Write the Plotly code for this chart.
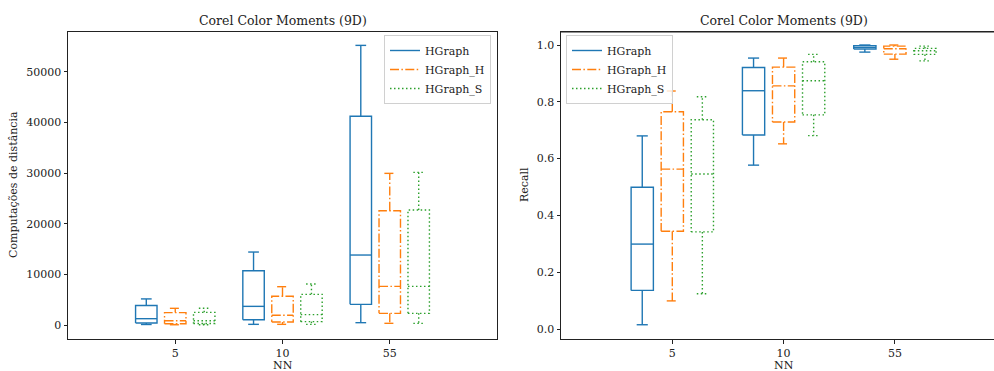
import plotly.graph_objects as go

# ---------------- data ----------------
nn_labels = ["5", "10", "55"]
series_names = ["HGraph", "HGraph_H", "HGraph_S"]

# distance computations: [lower whisker, q1, median, q3, upper whisker] per NN
dist_hgraph = [[100, 400, 1250, 3850, 5150],
               [130, 1050, 3680, 10720, 14400],
               [460, 4080, 13810, 41190, 55190]]
dist_hgraph_h = [[50, 260, 850, 2450, 3290],
                 [130, 590, 1910, 5660, 7560],
                 [330, 2300, 7630, 22560, 29930]]
dist_hgraph_s = [[50, 300, 850, 2500, 3300],
                 [130, 660, 2040, 6050, 8090],
                 [330, 2300, 7630, 22690, 30130]]
dist_ticks = [0, 10000, 20000, 30000, 40000, 50000]

# recall
rec_hgraph = [[0.015, 0.136, 0.299, 0.499, 0.680],
              [0.577, 0.683, 0.839, 0.921, 0.954],
              [0.975, 0.986, 0.992, 0.998, 1.000]]
rec_hgraph_h = [[0.099, 0.344, 0.563, 0.765, 0.838],
                [0.652, 0.729, 0.856, 0.922, 0.954],
                [0.950, 0.968, 0.987, 0.996, 1.000]]
rec_hgraph_s = [[0.124, 0.342, 0.546, 0.737, 0.818],
                [0.681, 0.754, 0.874, 0.941, 0.967],
                [0.944, 0.967, 0.980, 0.988, 0.996]]
rec_ticks = [0.0, 0.2, 0.4, 0.6, 0.8, 1.0]

colors = ["#1f77b4", "#ff7f0e", "#2ca02c"]
dashes = ["solid", "9px,2.4px,1.5px,2.4px", "1.5px,2.5px"]
offsets = [-0.27, 0.0, 0.27]
box_w = 0.2

FONT = "DejaVu Serif"
W, H = 994, 371


def box_path(center, stats):
    lo, q1, med, q3, hi = stats
    l, r = center - box_w / 2, center + box_w / 2
    cl, cr = center - box_w / 4, center + box_w / 4
    xs = [l, r, r, l, l, None,
          l, r, None,
          center, center, None,
          center, center, None,
          cl, cr, None,
          cl, cr, None]
    ys = [q1, q1, q3, q3, q1, None,
          med, med, None,
          q1, lo, None,
          q3, hi, None,
          lo, lo, None,
          hi, hi, None]
    return xs, ys


fig = go.Figure()

panels = [
    ([dist_hgraph, dist_hgraph_h, dist_hgraph_s], "x", "y", "legend"),
    ([rec_hgraph, rec_hgraph_h, rec_hgraph_s], "x2", "y2", "legend2"),
]

for data, xa, ya, leg in panels:
    for s, (name, ser) in enumerate(zip(series_names, data)):
        xs_all, ys_all = [], []
        for i, stats in enumerate(ser):
            xs, ys = box_path(i + 1 + offsets[s], stats)
            xs_all += xs
            ys_all += ys
        fig.add_trace(go.Scatter(
            x=xs_all, y=ys_all, mode="lines", name=name,
            line=dict(color=colors[s], width=1.4, dash=dashes[s]),
            xaxis=xa, yaxis=ya, legend=leg, hoverinfo="skip",
        ))

# geometry in pixels
top_px, bot_px = 32, 339
ydom = [1 - bot_px / H, 1 - top_px / H]
l1, r1 = 68, 497
l2 = 561
unit2 = 111.3
x2max = (W - l2) / unit2

axis_common = dict(
    showgrid=False, zeroline=False, showline=True, linecolor="#222",
    linewidth=1, ticks="outside", ticklen=3.5, tickwidth=0.8, tickcolor="#222",
    tickfont=dict(family=FONT, size=11, color="#222"),
)

legend_common = dict(
    yanchor="top", bgcolor="rgba(255,255,255,0.8)", bordercolor="#d0d0d0",
    borderwidth=1, font=dict(family=FONT, size=11, color="#222"),
    tracegroupgap=0, itemwidth=30,
)

fig.update_layout(
    width=W, height=H,
    margin=dict(l=0, r=0, t=0, b=0),
    paper_bgcolor="white", plot_bgcolor="white",
    font=dict(family=FONT, size=11, color="#222"),
    xaxis=dict(domain=[l1 / W, r1 / W], range=[0, 4], mirror=True,
               tickmode="array", tickvals=[1, 2, 3], ticktext=nn_labels,
               anchor="y", automargin=False, **axis_common),
    yaxis=dict(domain=ydom, range=[-2763, 57830], mirror=True,
               tickmode="array", tickvals=dist_ticks,
               ticktext=[str(v) for v in dist_ticks],
               anchor="x", automargin=False, **axis_common),
    xaxis2=dict(domain=[l2 / W, 1.0], range=[0, x2max], mirror=True,
                tickmode="array", tickvals=[1, 2, 3], ticktext=nn_labels,
                anchor="y2", automargin=False, **axis_common),
    yaxis2=dict(domain=ydom, range=[-0.0352, 1.0458], mirror=False,
                tickmode="array", tickvals=rec_ticks,
                ticktext=[f"{v:.1f}" for v in rec_ticks],
                anchor="x2", automargin=False, **axis_common),
    legend=dict(x=491 / W, y=1 - 35 / H, xanchor="right", **legend_common),
    legend2=dict(x=566 / W, y=1 - 35 / H, xanchor="left", **legend_common),
    showlegend=True,
)

# right top spine (mirror only the top, not the right side)
fig.add_shape(type="line", xref="x2 domain", yref="y2 domain",
              x0=0, x1=1, y0=1, y1=1, line=dict(color="#222", width=1))

annots = [
    dict(text="Corel Color Moments (9D)", x=(l1 + r1) / 2 / W, y=1 - 20.7 / H, size=12.5),
    dict(text="Corel Color Moments (9D)", x=783.5 / W, y=1 - 20.7 / H, size=12.5),
    dict(text="NN", x=(l1 + r1) / 2 / W, y=1 - 365.5 / H, size=11),
    dict(text="NN", x=783.5 / W, y=1 - 365.5 / H, size=11),
]
for a in annots:
    fig.add_annotation(text=a["text"], x=a["x"], y=a["y"], xref="paper", yref="paper",
                       xanchor="center", yanchor="middle", showarrow=False,
                       font=dict(family=FONT, size=a["size"], color="#222"))

fig.add_annotation(text="Computações de distância", x=14 / W, y=1 - 185 / H,
                   xref="paper", yref="paper", textangle=-90, showarrow=False,
                   xanchor="center", yanchor="middle",
                   font=dict(family=FONT, size=11, color="#222"))
fig.add_annotation(text="Recall", x=525 / W, y=1 - 185 / H,
                   xref="paper", yref="paper", textangle=-90, showarrow=False,
                   xanchor="center", yanchor="middle",
                   font=dict(family=FONT, size=11, color="#222"))

fig.write_html(
    "out.html",
    config={"displayModeBar": False},
    post_script="document.body.style.margin='0';document.body.style.overflow='hidden';",
)
